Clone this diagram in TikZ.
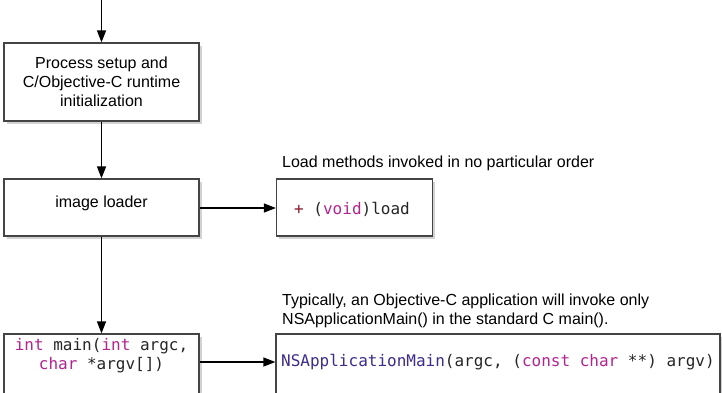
\documentclass[tikz,border=0pt]{standalone}
\usepackage{fontspec}
\setmainfont{Liberation Sans}
\newfontfamily\codefont{DejaVu Sans Mono}
\usetikzlibrary{arrows.meta,shadows}
\definecolor{kwcol}{HTML}{B4248F}
\definecolor{pluscol}{HTML}{8B1A2B}
\definecolor{fncol}{HTML}{3D2B8E}
\definecolor{codecol}{HTML}{262626}
\definecolor{edgecol}{HTML}{444444}
\newcommand{\kw}[1]{\textcolor{kwcol}{#1}}
\tikzset{
  box/.style={draw=edgecol, line width=1.2pt, fill=white, inner sep=0pt,
    drop shadow={shadow xshift=2.5pt, shadow yshift=-2.5pt, opacity=0.35}},
  txt/.style={font=\fontsize{16}{19}\selectfont, text=black, inner sep=0pt, align=center},
  code/.style={font=\codefont\fontsize{16}{19}\selectfont, text=codecol, inner sep=0pt, align=center},
  flow/.style={line width=1.2pt, -{Triangle[length=12pt,width=9pt]}}
}
\begin{document}
\begin{tikzpicture}[x=1pt,y=-1pt]
\useasboundingbox (0,0) rectangle (722,392);
\clip (0,0) rectangle (722,392);
\fill[white] (0,0) rectangle (722,392);
\coordinate (start) at (101.5,0);
\node[box, minimum width=195pt, minimum height=78pt] (setup) at (101.5,82) {};
\node[txt] (setuptext) at (setup.center) {Process setup and\\C/Objective-C runtime\\initialization};
\node[box, minimum width=195pt, minimum height=57pt] (loader) at (101.5,207.5) {};
\node[txt] (loadertext) at (101.5,203) {image loader};
\node[box, minimum width=156pt, minimum height=57pt] (load) at (354.5,207.5) {};
\node[code] (loadtext) at (352,209) {\textcolor{pluscol}{+} (\kw{void})load};
\node[txt, anchor=west] (loadnote) at (282,163) {Load methods invoked in no particular order};
\node[box, minimum width=195pt, minimum height=80pt] (main) at (101.5,374) {};
\node[code] (maintext) at (101.5,355.5) {\kw{int} main(\kw{int} argc,\\\kw{char} *argv[])};
\node[box, minimum width=444pt, minimum height=80pt] (nsapp) at (498,374) {};
\node[code, anchor=west] (nsapptext) at (281,362) {\textcolor{fncol}{NSApplicationMain}(argc, (\kw{const} \kw{char} **) argv)};
\node[txt, anchor=west, align=left] (mainnote) at (282,310.5) {Typically, an Objective-C application will invoke only\\NSApplicationMain() in the standard C main().};
\draw[flow] (start) -- (setup.north);
\draw[flow] (setup.south) -- (loader.north);
\draw[flow] (loader.east |- 0,208) -- (load.west |- 0,208);
\draw[flow] (loader.south) -- (main.north);
\draw[flow] (main.east |- 0,362) -- (nsapp.west |- 0,362);
\end{tikzpicture}
\end{document}
